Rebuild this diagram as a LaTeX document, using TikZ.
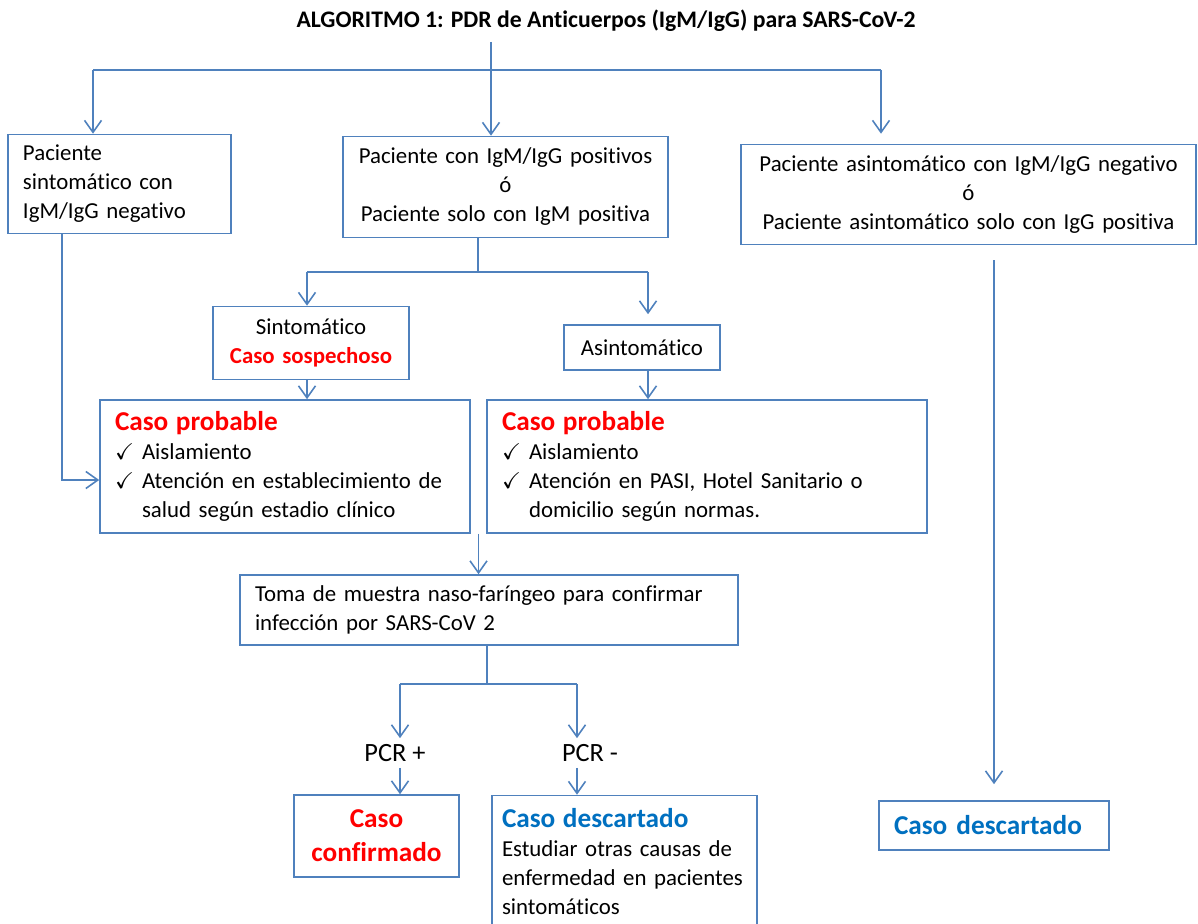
\documentclass[tikz,border=0pt]{standalone}
\usepackage{fontspec}
\setmainfont{Carlito}[Ligatures=NoCommon]
\usepackage{amssymb}
\usepackage{tikz}
\usetikzlibrary{arrows.meta,positioning,calc}
\definecolor{lineblue}{RGB}{79,129,189}
\definecolor{headblue}{RGB}{0,112,192}
\definecolor{alertred}{RGB}{255,0,0}
\newcommand{\bodyfont}{\fontsize{13}{16.5}\selectfont}
\newcommand{\headfont}{\fontsize{15.5}{19.3}\selectfont\bfseries}
\newcommand{\chk}{\makebox[0.54cm][l]{$\checkmark$}}
\newcommand{\ind}{\hspace*{0.54cm}}

\begin{document}
\begin{tikzpicture}[
    box/.style={rectangle, draw=lineblue, line width=0.9pt, fill=white,
                inner xsep=0.3cm, inner ysep=0pt, font=\bodyfont},
    arr/.style={-{Straight Barb[length=0.24cm, width=0.34cm]}, line width=0.9pt, lineblue},
    conn/.style={line width=0.9pt, lineblue}
]
    \useasboundingbox (0,0) rectangle (23.96,-18.48);

    % Title
    \node[font=\fontsize{13.5}{16.5}\selectfont\bfseries] (title) at (12.12,-0.42)
        {ALGORITMO 1: PDR de Anticuerpos (IgM/IgG) para SARS-CoV-2};

    % Row 1: test results
    \node[box, minimum width=4.46cm, minimum height=1.98cm, text width=3.86cm, align=left] (pac1) at (2.39,-3.68)
        {Paciente\\ sintomático con\\ IgM/IgG negativo};
    \node[box, minimum width=6.5cm, minimum height=2.02cm, text width=5.9cm, align=center] (pac2) at (10.11,-3.74)
        {Paciente con IgM/IgG positivos\\ ó\\ Paciente solo con IgM positiva};
    \node[box, minimum width=9.1cm, minimum height=2.0cm, text width=8.5cm, align=center] (pac3) at (19.37,-3.89)
        {Paciente asintomático con IgM/IgG negativo\\ ó\\ Paciente asintomático solo con IgG positiva};

    % Row 2: symptoms
    \node[box, minimum width=3.92cm, minimum height=1.46cm, text width=3.32cm, align=center] (sint) at (6.22,-6.86)
        {Sintomático\\ {\bfseries\color{alertred}Caso sospechoso}};
    \node[box, minimum width=3.12cm, minimum height=0.9cm, text width=2.52cm, align=center] (asin) at (12.84,-6.95)
        {Asintomático};

    % Row 3: probable cases
    \node[box, minimum width=7.4cm, minimum height=2.66cm, text width=6.8cm, align=left] (prob1) at (5.7,-9.33)
        {{\headfont\color{alertred}Caso probable}\\
         \chk Aislamiento\\
         \chk Atención en establecimiento de\\
         \ind salud según estadio clínico};
    \node[box, minimum width=8.8cm, minimum height=2.66cm, text width=8.2cm, align=left] (prob2) at (14.14,-9.33)
        {{\headfont\color{alertred}Caso probable}\\
         \chk Aislamiento\\
         \chk Atención en PASI, Hotel Sanitario o\\
         \ind domicilio según normas.};

    % Row 4: sample
    \node[box, minimum width=9.96cm, minimum height=1.4cm, text width=9.36cm, align=left] (toma) at (9.78,-12.2)
        {Toma de muestra naso-faríngeo para confirmar\\ infección por SARS-CoV 2};

    % PCR result
    \node[font=\fontsize{15}{18}\selectfont] (pcrp) at (7.9,-15.06) {PCR +};
    \node[font=\fontsize{15}{18}\selectfont] (pcrn) at (11.8,-15.06) {PCR -};

    % Final boxes
    \node[box, font=\headfont, text=alertred, minimum width=3.3cm, minimum height=1.64cm, text width=2.7cm, align=center] (conf) at (7.53,-16.72)
        {Caso\\ confirmado};
    \node[box, inner xsep=0.2cm, minimum width=5.3cm, minimum height=2.66cm, text width=4.9cm, align=left] (desc1) at (12.49,-17.24)
        {{\headfont\color{headblue}Caso descartado}\\
         Estudiar otras causas de\\
         enfermedad en pacientes\\
         sintomáticos};
    \node[box, font=\headfont, text=headblue, minimum width=4.6cm, minimum height=0.98cm, text width=4.0cm, align=left] (desc2) at (19.88,-16.51)
        {Caso descartado};

    % Connectors from title
    \coordinate (top) at (9.82,-0.84);
    \coordinate (hl) at (1.86,-1.4);
    \coordinate (hm) at (9.82,-1.4);
    \coordinate (hr) at (17.62,-1.4);
    \draw[conn] (top) -- (hm);
    \draw[conn] (hl) -- (hr);
    \draw[arr] (hl) -- (hl |- pac1.north);
    \draw[arr] (hm) -- (hm |- pac2.north);
    \draw[arr, shorten >=0.2cm] (hr) -- (hr |- pac3.north);

    % Split on symptoms
    \coordinate (sm) at (9.56,-5.44);
    \coordinate (sl) at (6.14,-5.44);
    \coordinate (sr) at (12.96,-5.44);
    \draw[conn] (sm |- pac2.south) -- (sm);
    \draw[conn] (sl) -- (sr);
    \draw[arr] (sl) -- (sl |- sint.north);
    \draw[arr, shorten >=0.2cm] (sr) -- (sr |- asin.north);
    \draw[arr] (sl |- sint.south) -- (sl |- prob1.north);
    \draw[arr] (sr |- asin.south) -- (sr |- prob2.north);

    % Negative symptomatic goes to probable case
    \coordinate (lk) at (1.24,-9.6);
    \draw[arr] (lk |- pac1.south) -- (lk) -- (lk -| prob1.west);

    % Both probable cases to sample
    \coordinate (jn) at ($(prob1.south east)!0.5!(prob2.south west)$);
    \draw[arr] (jn) -- (jn |- toma.north);

    % Split on PCR
    \coordinate (pm) at (9.74,-13.68);
    \coordinate (pl) at (8.0,-13.68);
    \coordinate (pr) at (11.54,-13.68);
    \draw[conn] (pm |- toma.south) -- (pm);
    \draw[conn] (pl) -- (pr);
    \draw[arr] (pl) -- (pl |- pcrp.north);
    \draw[arr] (pr) -- (pr |- pcrn.north);
    \draw[arr] (pl |- pcrp.south) -- (pl |- conf.north);
    \draw[arr] (pr |- pcrn.south) -- (pr |- desc1.north);

    % Asymptomatic branch
    \draw[arr, shorten <=0.3cm, shorten >=0.32cm] (desc2.north |- pac3.south) -- (desc2.north);
\end{tikzpicture}
\end{document}
